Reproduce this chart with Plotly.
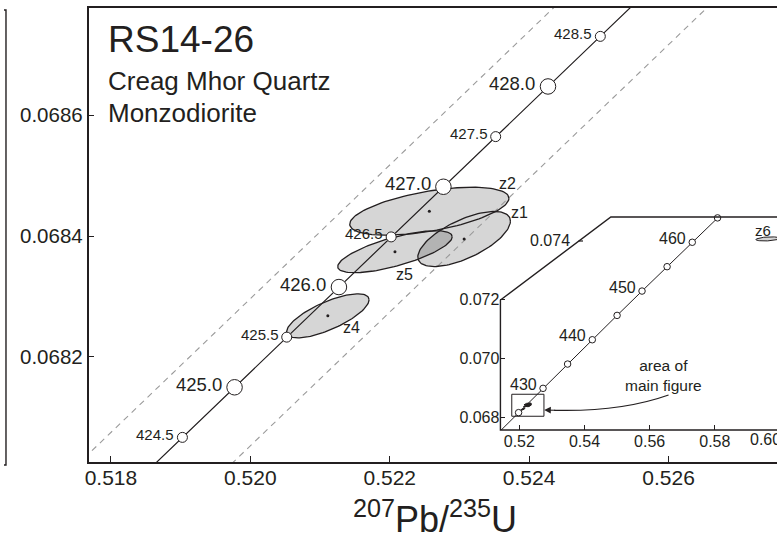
import numpy as np
import plotly.graph_objects as go

W, H = 777, 539
TXT = "#231f20"
FONT = "Liberation Sans, Arial, Helvetica, sans-serif"

# ---------------- main concordia (ages in Ma) ----------------
conc_age = [424.0, 424.5, 425.0, 425.5, 426.0, 426.5, 427.0, 427.5, 428.0, 428.5, 429.0]
conc_x = [0.5182775, 0.5190254, 0.5197736, 0.5205221, 0.5212710, 0.5220204,
          0.5227699, 0.5235199, 0.5242704, 0.5250212, 0.5257723]
conc_y = [0.0679842, 0.0680671, 0.0681499, 0.0682328, 0.0683156, 0.0683985,
          0.0684814, 0.0685643, 0.0686472, 0.0687300, 0.0688129]
mark_ages = [424.5, 425.0, 425.5, 426.0, 426.5, 427.0, 427.5, 428.0, 428.5]

# decay-constant error envelope (dashed)
env_a_x = [0.5175, 0.5245]
env_a_y = [0.0680200, 0.0687937]
env_b_x = [0.5195, 0.5275]
env_b_y = [0.0679979, 0.0688821]

# zircon analyses: centre, half-extents, error correlation
ell_name = ["z1", "z2", "z4", "z5"]
ell_x = [0.523067, 0.522568, 0.521112, 0.522075]
ell_y = [0.068395, 0.068441, 0.068268, 0.068374]
ell_sx = [0.000664, 0.001142, 0.000592, 0.000821]
ell_sy = [0.0000455, 0.0000397, 0.0000364, 0.0000347]
ell_rho = [0.65, 0.54, 0.73, 0.71]

z6_x, z6_y, z6_sx, z6_sy, z6_rho = 0.5963, 0.07408, 0.0037, 0.00007, 0.3

# ---------------- inset concordia ----------------
ins_age = [420, 425, 430, 435, 440, 445, 450, 455, 460, 465, 470]
ins_x = [0.512308, 0.519773, 0.527276, 0.534815, 0.542391, 0.550005,
         0.557657, 0.565346, 0.573073, 0.580838, 0.588642]
ins_y = [0.067322, 0.068150, 0.068979, 0.069808, 0.070638, 0.071469,
         0.072300, 0.073132, 0.073965, 0.074798, 0.075632]
ins_mark_ages = [425, 430, 435, 440, 445, 450, 455, 460, 465]
ins_label_ages = [430, 440, 450, 460]

x_ticks = [0.518, 0.520, 0.522, 0.524, 0.526]
y_ticks = [0.0682, 0.0684, 0.0686]
ins_x_ticks = [0.52, 0.54, 0.56, 0.58]
ins_y_ticks = [0.068, 0.070, 0.072]

MAIN_XR = [0.517679, 0.527556]
MAIN_YR = [0.0680264, 0.0687769]
INS_XR = [0.514198, 0.599084]
INS_YR = [0.067557, 0.074828]


def px(x):
    return x / W


def py(y):
    return 1 - y / H


def ellipse(cx, cy, sx, sy, rho, n=120):
    t = np.linspace(0, 2 * np.pi, n)
    return (cx + sx * np.cos(t),
            cy + sy * (rho * np.cos(t) + np.sqrt(1 - rho ** 2) * np.sin(t)))


fig = go.Figure()

LIGHT = "rgb(214,214,214)"
SEMI = "rgba(0,0,0,0.16)"

# fills: z5, z1 semi-transparent (darker overlap), z2 & z4 opaque
fill_order = ["z5", "z1", "z2", "z4"]
for nm in fill_order:
    i = ell_name.index(nm)
    ex, ey = ellipse(ell_x[i], ell_y[i], ell_sx[i], ell_sy[i], ell_rho[i])
    fig.add_trace(go.Scatter(x=ex, y=ey, mode="lines", fill="toself",
                             fillcolor=SEMI if nm in ("z5", "z1") else LIGHT,
                             line=dict(width=0), hoverinfo="skip"))

# dashed envelope
for ex, ey in [(env_a_x, env_a_y), (env_b_x, env_b_y)]:
    fig.add_trace(go.Scatter(x=ex, y=ey, mode="lines",
                             line=dict(color="#9a9a9a", width=1.1, dash="6px,5px"),
                             hoverinfo="skip"))

# ellipse outlines
for i in range(len(ell_name)):
    ex, ey = ellipse(ell_x[i], ell_y[i], ell_sx[i], ell_sy[i], ell_rho[i])
    fig.add_trace(go.Scatter(x=ex, y=ey, mode="lines",
                             line=dict(color=TXT, width=1.3), hoverinfo="skip"))

# centre dots
fig.add_trace(go.Scatter(x=ell_x, y=ell_y, mode="markers",
                         marker=dict(size=3, color=TXT), hoverinfo="skip"))

# concordia line
fig.add_trace(go.Scatter(x=conc_x, y=conc_y, mode="lines",
                         line=dict(color=TXT, width=1.2), hoverinfo="skip"))

# concordia markers
big_x, big_y, sm_x, sm_y = [], [], [], []
for a in mark_ages:
    i = conc_age.index(a)
    if abs(a - round(a)) < 1e-9:
        big_x.append(conc_x[i]); big_y.append(conc_y[i])
    else:
        sm_x.append(conc_x[i]); sm_y.append(conc_y[i])
fig.add_trace(go.Scatter(x=big_x, y=big_y, mode="markers",
                         marker=dict(size=15.5, color="white", line=dict(color=TXT, width=1)),
                         hoverinfo="skip"))
fig.add_trace(go.Scatter(x=sm_x, y=sm_y, mode="markers",
                         marker=dict(size=10, color="white", line=dict(color=TXT, width=1)),
                         hoverinfo="skip"))

annotations = []
for a in mark_ages:
    i = conc_age.index(a)
    big = abs(a - round(a)) < 1e-9
    annotations.append(dict(x=conc_x[i], y=conc_y[i], xref="x", yref="y",
                            text=f"{a:.1f}", showarrow=False, xanchor="right",
                            yanchor="middle", xshift=-10.5 if big else -6, yshift=3,
                            font=dict(size=18.5 if big else 15, color=TXT)))

# ellipse labels (pixel offsets from centres)
lab_off = {"z1": (55, 27), "z2": (78, 28), "z4": (24, -12), "z5": (10, -23)}
for i, nm in enumerate(ell_name):
    dx, dy = lab_off[nm]
    annotations.append(dict(x=ell_x[i], y=ell_y[i], xref="x", yref="y", text=nm,
                            showarrow=False, xanchor="center", yanchor="middle",
                            xshift=dx, yshift=dy, font=dict(size=16, color=TXT)))

# ---------------- inset traces ----------------
for i in range(len(ell_name)):
    ex, ey = ellipse(ell_x[i], ell_y[i], ell_sx[i], ell_sy[i], ell_rho[i])
    fig.add_trace(go.Scatter(x=ex, y=ey, mode="lines", fill="toself", fillcolor=TXT,
                             line=dict(color=TXT, width=1), xaxis="x2", yaxis="y2",
                             hoverinfo="skip"))
ex, ey = ellipse(z6_x, z6_y, z6_sx, z6_sy, z6_rho)
fig.add_trace(go.Scatter(x=ex, y=ey, mode="lines", fill="toself", fillcolor=LIGHT,
                         line=dict(color=TXT, width=1), xaxis="x2", yaxis="y2",
                         hoverinfo="skip"))
fig.add_trace(go.Scatter(x=ins_x, y=ins_y, mode="lines", line=dict(color=TXT, width=1),
                         xaxis="x2", yaxis="y2", hoverinfo="skip"))
im_x = [ins_x[ins_age.index(a)] for a in ins_mark_ages]
im_y = [ins_y[ins_age.index(a)] for a in ins_mark_ages]
fig.add_trace(go.Scatter(x=im_x, y=im_y, mode="markers", cliponaxis=False,
                         marker=dict(size=6.5, color="white", line=dict(color=TXT, width=1)),
                         xaxis="x2", yaxis="y2", hoverinfo="skip"))
for a in ins_label_ages:
    i = ins_age.index(a)
    annotations.append(dict(x=ins_x[i], y=ins_y[i], xref="x2", yref="y2", text=str(a),
                            showarrow=False, xanchor="right", yanchor="middle",
                            xshift=-4, yshift=4, font=dict(size=16, color=TXT)))
annotations.append(dict(x=z6_x, y=z6_y, xref="x2", yref="y2", text="z6", showarrow=False,
                        xanchor="center", yanchor="middle", xshift=-5, yshift=8,
                        font=dict(size=15, color=TXT)))

shapes = [dict(type="rect", xref="x2", yref="y2", x0=MAIN_XR[0], x1=MAIN_XR[1],
               y0=MAIN_YR[0], y1=MAIN_YR[1], line=dict(color=TXT, width=1))]

fr = [(790, 217), (610, 217), (499, 300), (499, 430), (790, 430)]
path = "M " + " L ".join(f"{px(a):.5f},{py(b):.5f}" for a, b in fr)
shapes.append(dict(type="path", xref="paper", yref="paper", path=path,
                   line=dict(color=TXT, width=1.4)))
shapes.append(dict(type="line", xref="paper", yref="paper", x0=px(577.5), x1=px(582),
                   y0=py(241), y1=py(241), line=dict(color=TXT, width=1.2)))
annotations.append(dict(x=px(571), y=py(240), xref="paper", yref="paper", text="0.074",
                        showarrow=False, xanchor="right", yanchor="middle",
                        font=dict(size=16, color=TXT)))
annotations.append(dict(x=px(748), y=py(439), xref="paper", yref="paper", text="0.60",
                        showarrow=False, xanchor="left", yanchor="middle",
                        font=dict(size=16, color=TXT)))

# arrow from text to box
shapes.append(dict(type="path", xref="paper", yref="paper",
                   path=f"M {px(668):.5f},{py(395):.5f} Q {px(620):.5f},{py(412):.5f} {px(553):.5f},{py(410.3):.5f}",
                   line=dict(color=TXT, width=1.2)))
annotations.append(dict(x=px(543), y=py(410), xref="paper", yref="paper", text=" ",
                        showarrow=True, arrowhead=2, arrowsize=1.1, arrowwidth=1.2,
                        arrowcolor=TXT, ax=14, ay=0.3, standoff=0))
annotations.append(dict(x=px(663), y=py(375), xref="paper", yref="paper",
                        text="area of<br>main figure", showarrow=False,
                        xanchor="center", yanchor="middle",
                        font=dict(size=15.5, color=TXT)))

shapes.append(dict(type="path", xref="paper", yref="paper",
                   path=f"M 0,{py(10):.5f} L {px(2):.5f},{py(10):.5f} L {px(2):.5f},{py(465):.5f} L 0,{py(465):.5f}",
                   line=dict(color=TXT, width=1.4)))

annotations.append(dict(x=px(103), y=py(40), xref="paper", yref="paper", text="RS14-26",
                        showarrow=False, xanchor="left", yanchor="middle",
                        font=dict(size=37, color=TXT)))
annotations.append(dict(x=px(103), y=py(81), xref="paper", yref="paper",
                        text="Creag Mhor Quartz", showarrow=False, xanchor="left",
                        yanchor="middle", font=dict(size=26, color=TXT)))
annotations.append(dict(x=px(103), y=py(113), xref="paper", yref="paper",
                        text="Monzodiorite", showarrow=False, xanchor="left",
                        yanchor="middle", font=dict(size=26, color=TXT)))
annotations.append(dict(x=px(433.5), y=py(517), xref="paper", yref="paper",
                        text="<sup>207</sup>Pb/<sup>235</sup>U", showarrow=False,
                        xanchor="center", yanchor="middle",
                        font=dict(size=36, color=TXT)))

fig.update_layout(
    width=W, height=H, margin=dict(l=0, r=0, t=0, b=0),
    paper_bgcolor="white", plot_bgcolor="rgba(0,0,0,0)", showlegend=False,
    font=dict(family=FONT, color=TXT),
    xaxis=dict(domain=[px(85), 1], range=MAIN_XR, tickvals=x_ticks,
               ticktext=[f"{v:.3f}" for v in x_ticks], ticks="inside", ticklen=6,
               tickwidth=1.4, tickcolor=TXT, showline=True, linewidth=1.5,
               linecolor=TXT, mirror=True, showgrid=False, zeroline=False,
               tickfont=dict(size=21, color=TXT), ticklabelstandoff=-4),
    yaxis=dict(domain=[py(462), py(8)], range=MAIN_YR, tickvals=y_ticks,
               ticktext=[f"{v:.4f}" for v in y_ticks], ticks="inside", ticklen=6,
               tickwidth=1.4, tickcolor=TXT, showline=True, linewidth=1.5,
               linecolor=TXT, mirror=False, showgrid=False, zeroline=False,
               tickfont=dict(size=20.5, color=TXT)),
    xaxis2=dict(domain=[px(499), 1], range=INS_XR, anchor="y2", tickvals=ins_x_ticks,
                ticktext=[f"{v:.2f}" for v in ins_x_ticks], ticks="inside", ticklen=5,
                tickwidth=1.2, tickcolor=TXT, showline=False, showgrid=False,
                zeroline=False, tickfont=dict(size=16, color=TXT)),
    yaxis2=dict(domain=[py(430), py(217)], range=INS_YR, anchor="x2",
                tickvals=ins_y_ticks, ticktext=[f"{v:.3f}" for v in ins_y_ticks],
                ticks="inside", ticklen=5, tickwidth=1.2, tickcolor=TXT,
                showline=False, showgrid=False, zeroline=False,
                tickfont=dict(size=16, color=TXT)),
    shapes=shapes, annotations=annotations,
)

fig.write_html("out.html", config={"displayModeBar": False},
               post_script="document.body.style.margin='0px';document.body.style.overflow='hidden';")
